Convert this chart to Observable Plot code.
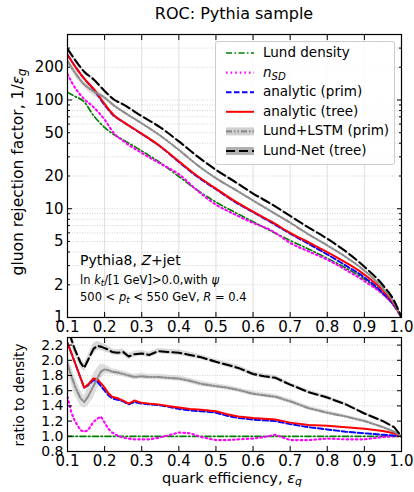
<!DOCTYPE html>
<html><head><meta charset="utf-8">
<script src="https://cdn.jsdelivr.net/npm/d3@7"></script>
<script src="https://cdn.jsdelivr.net/npm/@observablehq/plot@0.6"></script>
<style>
body{margin:0;background:#fff;font-family:"DejaVu Sans",sans-serif;}
#wrap{position:relative;width:414px;height:492px;overflow:hidden;background:#fff;}
#wrap svg{position:absolute;left:0;}
.abs{position:absolute;white-space:nowrap;color:#000;line-height:1;}
.rot{transform:translate(-50%,-50%) rotate(-90deg);}
sub{font-size:75%;vertical-align:-0.25em;line-height:0;}
</style></head><body><div id="wrap"></div>
<script>
// ---- data ----
const effTop = [0.1,0.12,0.145,0.17,0.2,0.225,0.25,0.3,0.35,0.4,0.45,0.5,0.55,0.6,0.65,0.7,0.75,0.8,0.85,0.9,0.95,0.98,1.0];
const rejDensity = [117,108,96,72,56,48,43,34,26.5,19.8,14.8,11.5,9.3,7.6,6.2,5.1,4.25,3.5,2.85,2.25,1.65,1.28,1.0];
const rejNsd = [173,130,102,86,66,49.5,42,32.6,26,20.8,14.7,10.9,8.9,7.4,6.3,4.85,4.05,3.4,2.74,2.16,1.63,1.28,1.0];
const rejAnaPrim = [261,205,157,125,90,71.5,62.8,48.6,37.3,26.9,19.7,15.1,11.6,9.3,7.45,5.9,4.75,3.8,3.0,2.34,1.68,1.29,1.0];
const rejAnaTree = [261,205,157,127,92,72.5,63,49,37.6,27.3,20.0,15.3,11.8,9.4,7.6,6.0,4.9,4.0,3.2,2.48,1.77,1.33,1.0];
const rejLstm = [228,179,139,120,105,89,78,61,47,34.8,25.2,19.1,15.1,11.9,9.4,7.45,5.8,4.6,3.6,2.7,1.85,1.36,1.0];
const rejLundNet = [295,235,182,155,121,101,91,71,56,41.6,30.3,22.8,17.8,13.8,11.0,8.6,6.7,5.3,4.05,2.93,1.98,1.43,1.0];
const relErrLstmTop = [0.06,0.07,0.06,0.09,0.04,0.03,0.025,0.02,0.02,0.02,0.02,0.02,0.02,0.02,0.02,0.02,0.02,0.02,0.015,0.015,0.01,0.01,0];
const relErrLundNetTop = [0.04,0.04,0.03,0.04,0.03,0.025,0.02,0.02,0.02,0.02,0.02,0.02,0.02,0.02,0.02,0.015,0.015,0.015,0.015,0.01,0.01,0.01,0];

const effRatio = [0.1,0.11,0.12,0.135,0.145,0.155,0.17,0.18,0.19,0.2,0.21,0.22,0.235,0.25,0.265,0.28,0.3,0.32,0.345,0.37,0.4,0.43,0.46,0.5,0.53,0.56,0.6,0.63,0.66,0.7,0.75,0.8,0.85,0.9,0.95,0.98,1.0];
const ratioDensity = [1,1,1,1,1,1,1,1,1,1,1,1,1,1,1,1,1,1,1,1,1,1,1,1,1,1,1,1,1,1,1,1,1,1,1,1,1];
const ratioNsd = [1.52,1.32,1.20,1.08,1.06,1.08,1.19,1.23,1.26,1.18,1.10,1.05,1.01,0.98,0.97,0.96,0.96,0.96,0.98,1.01,1.05,1.04,0.99,0.95,0.95,0.96,0.97,0.99,1.02,0.95,0.95,0.97,0.96,0.96,0.99,1.0,1.0];
const ratioAnaPrim = [2.23,2.10,1.97,1.77,1.64,1.67,1.74,1.72,1.66,1.60,1.54,1.50,1.48,1.46,1.42,1.45,1.43,1.42,1.41,1.39,1.36,1.34,1.33,1.31,1.27,1.24,1.22,1.21,1.20,1.16,1.12,1.09,1.06,1.04,1.02,1.01,1.0];
const ratioAnaTree = [2.23,2.10,1.97,1.77,1.64,1.68,1.76,1.75,1.70,1.64,1.57,1.52,1.50,1.47,1.43,1.47,1.44,1.43,1.42,1.40,1.38,1.36,1.35,1.33,1.29,1.26,1.24,1.23,1.22,1.18,1.15,1.14,1.12,1.10,1.07,1.04,1.0];
const ratioLstm = [1.95,1.80,1.66,1.50,1.45,1.52,1.66,1.76,1.85,1.88,1.87,1.85,1.84,1.82,1.80,1.78,1.79,1.78,1.78,1.77,1.76,1.73,1.69,1.66,1.64,1.61,1.56,1.54,1.52,1.46,1.37,1.31,1.26,1.20,1.12,1.06,1.0];
const ratioLundNet = [2.52,2.28,2.14,1.97,1.90,2.0,2.15,2.19,2.18,2.16,2.14,2.11,2.10,2.11,2.05,2.08,2.09,2.07,2.12,2.11,2.10,2.07,2.04,1.98,1.94,1.90,1.82,1.79,1.77,1.68,1.58,1.51,1.42,1.30,1.20,1.12,1.0];
const errLstm = [0.10,0.12,0.12,0.10,0.08,0.12,0.16,0.14,0.10,0.06,0.05,0.04,0.04,0.035,0.035,0.035,0.035,0.035,0.035,0.035,0.035,0.035,0.035,0.03,0.03,0.03,0.03,0.03,0.03,0.03,0.025,0.025,0.02,0.02,0.015,0.01,0.0];
const errLundNet = [0.08,0.08,0.07,0.06,0.05,0.06,0.07,0.06,0.05,0.05,0.045,0.04,0.04,0.04,0.04,0.04,0.035,0.035,0.035,0.035,0.035,0.035,0.03,0.03,0.03,0.03,0.03,0.03,0.03,0.025,0.025,0.025,0.02,0.02,0.015,0.01,0.0];

const seriesNames = ["Lund density", "n_SD", "analytic (prim)", "analytic (tree)", "Lund+LSTM (prim)", "Lund-Net (tree)"];
const seriesColors = ["#008000", "#ff00ff", "#0000ff", "#ff0000", "#8c8c8c", "#000000"];
const seriesDash = ["6,2.5,1.5,2.5", "1.6,3", "5.5,2.5", null, "6,2,1.5,2,1.5,2", "9,4"];
const seriesWidth = [1.7, 2.1, 1.9, 2, 2.1, 2.1];

const xTicks = [0.1,0.2,0.3,0.4,0.5,0.6,0.7,0.8,0.9,1.0];
const yTickLabelsTop = [1,2,5,10,20,50,100,200];
const yMajorTop = [1,10,100];
const yMinorTop = [2,3,4,5,6,7,8,9,20,30,40,50,60,70,80,90,200,300,400];
const yTicksBottom = [0.8,1.0,1.2,1.4,1.6,1.8,2.0,2.2];

const topVals = [rejDensity, rejNsd, rejAnaPrim, rejAnaTree, rejLstm, rejLundNet];
const ratioVals = [ratioDensity, ratioNsd, ratioAnaPrim, ratioAnaTree, ratioLstm, ratioLundNet];

const FONT = "DejaVu Sans";
const fmt1 = d3.format(".1f");
const wrap = document.getElementById("wrap");

function frameTicks(xs, ys, ysMinor, xFmt) {
  const m = [
    Plot.axisX(xs, {anchor: "bottom", tickSize: 5, dy: -5, fill: "none", label: null, strokeWidth: 1}),
    Plot.axisX(xs, {anchor: "top", tickSize: 5, dy: 5, fill: "none", label: null, strokeWidth: 1}),
    Plot.axisY(ys, {anchor: "left", tickSize: 5, dx: 5, fill: "none", label: null}),
    Plot.axisY(ys, {anchor: "right", tickSize: 5, dx: -5, fill: "none", label: null}),
    Plot.axisX(xs, {anchor: "bottom", tickSize: 0, tickPadding: 4, tickFormat: xFmt, label: null})
  ];
  if (ysMinor) {
    m.push(Plot.axisY(ysMinor, {anchor: "left", tickSize: 3, dx: 3, fill: "none", label: null}));
    m.push(Plot.axisY(ysMinor, {anchor: "right", tickSize: 3, dx: -3, fill: "none", label: null}));
  }
  return m;
}

// ---- top panel ----
const bandTopLstm = effTop.map((x, i) => ({x, lo: rejLstm[i] * (1 - relErrLstmTop[i]), hi: rejLstm[i] * (1 + relErrLstmTop[i])}));
const bandTopNet = effTop.map((x, i) => ({x, lo: rejLundNet[i] * (1 - relErrLundNetTop[i]), hi: rejLundNet[i] * (1 + relErrLundNetTop[i])}));

const topMarks = [
  Plot.gridX(xTicks, {stroke: "#b0b0b0", strokeOpacity: 0.5, strokeWidth: 0.8}),
  Plot.gridY([...yMajorTop, ...yMinorTop], {stroke: "#a0a0a0", strokeOpacity: 0.6, strokeWidth: 0.8, strokeDasharray: "1,1.5"}),
  Plot.areaY(bandTopLstm, {x: "x", y1: "lo", y2: "hi", fill: "#c8c8c8", fillOpacity: 0.6, curve: "monotone-x"}),
  Plot.areaY(bandTopNet, {x: "x", y1: "lo", y2: "hi", fill: "#b4b4b4", fillOpacity: 0.5, curve: "monotone-x"})
];
seriesNames.forEach((name, k) => {
  topMarks.push(Plot.line(effTop.map((x, i) => ({x, y: topVals[k][i]})), {
    x: "x", y: "y", stroke: seriesColors[k], strokeWidth: seriesWidth[k],
    strokeDasharray: seriesDash[k], curve: "monotone-x", clip: true
  }));
});
topMarks.push(Plot.frame({stroke: "#000", strokeWidth: 1.2}));
topMarks.push(...frameTicks(xTicks, yMajorTop, yMinorTop, fmt1));
topMarks.push(Plot.text(yTickLabelsTop, {y: d => d, text: d => String(d), frameAnchor: "left", textAnchor: "end", dx: -4, fontSize: 15}));

const topPlot = Plot.plot({
  width: 414, height: 340,
  marginTop: 34, marginBottom: 23, marginLeft: 67, marginRight: 13,
  style: {fontFamily: FONT, fontSize: "15px", background: "transparent", color: "#000", overflow: "visible"},
  x: {domain: [0.1, 1.0]},
  y: {type: "log", domain: [1, 400]},
  marks: topMarks
});
topPlot.style.top = "0px";
wrap.appendChild(topPlot);

// ---- ratio panel ----
const bandLstm = effRatio.map((x, i) => ({x, lo: ratioLstm[i] - errLstm[i], hi: ratioLstm[i] + errLstm[i]}));
const bandNet = effRatio.map((x, i) => ({x, lo: ratioLundNet[i] - errLundNet[i], hi: ratioLundNet[i] + errLundNet[i]}));
const botMarks = [
  Plot.gridX(xTicks, {stroke: "#b0b0b0", strokeOpacity: 0.5, strokeWidth: 0.8, strokeDasharray: "1,1.5"}),
  Plot.gridY(yTicksBottom, {stroke: "#a0a0a0", strokeOpacity: 0.6, strokeWidth: 0.8, strokeDasharray: "1,1.5"}),
  Plot.areaY(bandLstm, {x: "x", y1: "lo", y2: "hi", fill: "#c8c8c8", fillOpacity: 0.6, clip: true}),
  Plot.areaY(bandNet, {x: "x", y1: "lo", y2: "hi", fill: "#b4b4b4", fillOpacity: 0.5, clip: true})
];
seriesNames.forEach((name, k) => {
  botMarks.push(Plot.line(effRatio.map((x, i) => ({x, y: ratioVals[k][i]})), {
    x: "x", y: "y", stroke: seriesColors[k], strokeWidth: seriesWidth[k],
    strokeDasharray: seriesDash[k], clip: true
  }));
});
botMarks.push(Plot.frame({stroke: "#000", strokeWidth: 1.2}));
botMarks.push(...frameTicks(xTicks, yTicksBottom, null, fmt1));
botMarks.push(Plot.axisY(yTicksBottom, {anchor: "left", tickSize: 0, tickPadding: 4, tickFormat: fmt1, label: null, fontSize: 14}));

const botPlot = Plot.plot({
  width: 414, height: 157,
  marginTop: 2, marginBottom: 41, marginLeft: 67, marginRight: 13,
  style: {fontFamily: FONT, fontSize: "15px", background: "transparent", color: "#000", overflow: "visible"},
  x: {domain: [0.1, 1.0]},
  y: {domain: [0.8, 2.3]},
  marks: botMarks
});
botPlot.style.top = "335px";
wrap.appendChild(botPlot);

// ---- texts ----
function addText(html, css) {
  const d = document.createElement("div");
  d.className = "abs";
  d.innerHTML = html;
  d.style.cssText += css;
  wrap.appendChild(d);
  return d;
}
addText("ROC: Pythia sample", "left:234px;top:14px;transform:translate(-50%,-50%);font-size:16px;");
const yl1 = addText("gluon rejection factor, 1/<i>ε</i><sub><i>g</i></sub>", "left:19px;top:172px;font-size:15.5px;");
yl1.classList.add("rot");
const yl2 = addText("ratio to density", "left:20px;top:395px;font-size:13.5px;");
yl2.classList.add("rot");
addText("quark efficiency, <i>ε</i><sub><i>q</i></sub>", "left:232px;top:478px;transform:translate(-50%,-50%);font-size:14.5px;");

addText("Pythia8, <i>Z</i>+jet", "left:80px;top:253px;font-size:14px;");
addText("ln <i>k</i><sub><i>t</i></sub>/[1 GeV]&gt;0.0,with <i>ψ</i>", "left:80px;top:275px;font-size:11.5px;");
addText("500 &lt; <i>p</i><sub><i>t</i></sub> &lt; 550 GeV, <i>R</i> = 0.4", "left:80px;top:292px;font-size:11.5px;");

// ---- legend ----
const legendLabels = ["Lund density", "<i>n</i><sub><i>SD</i></sub>", "analytic (prim)", "analytic (tree)", "Lund+LSTM (prim)", "Lund-Net (tree)"];
const leg = document.createElement("div");
leg.style.cssText = "position:absolute;left:215px;top:41px;width:178px;height:122px;border:1px solid #cccccc;border-radius:3px;background:rgba(255,255,255,0.85);";
const ns = "http://www.w3.org/2000/svg";
const lsvg = document.createElementNS(ns, "svg");
lsvg.setAttribute("width", "178"); lsvg.setAttribute("height", "122");
lsvg.style.cssText = "position:absolute;left:0;top:0;";
const bandFill = [null, null, null, null, "#c4c4c4", "#a8a8a8"];
seriesNames.forEach((name, k) => {
  const cy = 11 + k * 19.6;
  if (bandFill[k]) {
    const r = document.createElementNS(ns, "rect");
    r.setAttribute("x", 10); r.setAttribute("y", cy - 4); r.setAttribute("width", 28); r.setAttribute("height", 8);
    r.setAttribute("fill", bandFill[k]); r.setAttribute("fill-opacity", k === 4 ? 0.8 : 0.9);
    lsvg.appendChild(r);
  }
  const l = document.createElementNS(ns, "line");
  l.setAttribute("x1", 10); l.setAttribute("x2", 38); l.setAttribute("y1", cy); l.setAttribute("y2", cy);
  l.setAttribute("stroke", seriesColors[k]); l.setAttribute("stroke-width", seriesWidth[k]);
  if (seriesDash[k]) l.setAttribute("stroke-dasharray", seriesDash[k]);
  lsvg.appendChild(l);
  const t = document.createElement("div");
  t.className = "abs";
  t.style.cssText = `left:47px;top:${cy}px;transform:translateY(-50%);font-size:13.5px;`;
  t.innerHTML = legendLabels[k];
  leg.appendChild(t);
});
leg.appendChild(lsvg);
wrap.appendChild(leg);
</script>
</body></html>
